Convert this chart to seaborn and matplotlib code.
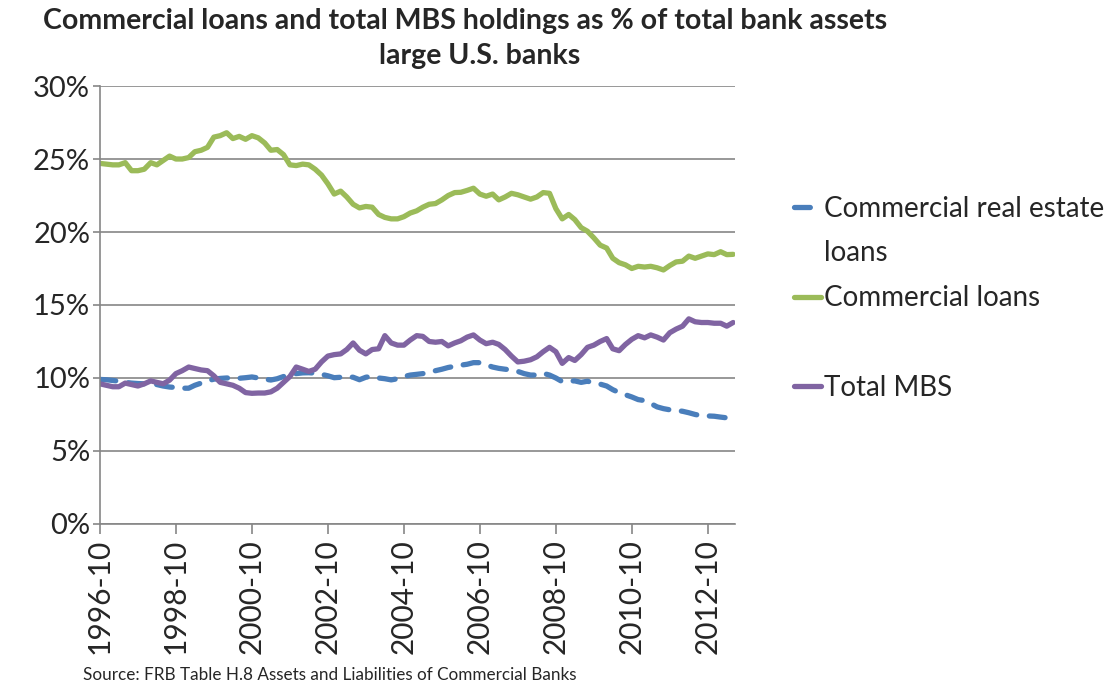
import pandas as pd
import matplotlib
matplotlib.use("Agg")
import matplotlib.pyplot as plt
import matplotlib.dates as mdates
from matplotlib.lines import Line2D
from matplotlib.ticker import PercentFormatter
import seaborn as sns

# Data (every 2 months, % of total bank assets)
dates = pd.date_range("1996-10-01", periods=101, freq="2MS")

cre_loans = [
    9.9, 9.88, 9.83, 9.78, 9.7, 9.65, 9.62, 9.6, 9.6, 9.55,
    9.45, 9.38, 9.35, 9.3, 9.3, 9.5, 9.65, 9.8, 9.92, 9.97,
    10.0, 10.0, 9.98, 10.02, 10.07, 10.0, 9.92, 9.86, 9.95, 10.1,
    10.2, 10.3, 10.35, 10.36, 10.33, 10.25, 10.15, 10.02, 10.05, 10.1,
    10.05, 9.88, 10.05, 10.12, 10.0, 9.95, 9.87, 9.95, 10.1, 10.2,
    10.25, 10.3, 10.4, 10.5, 10.6, 10.72, 10.8, 10.88, 10.94, 11.05,
    11.05, 10.9, 10.75, 10.66, 10.6, 10.55, 10.45, 10.3, 10.2, 10.2,
    10.32, 10.2, 10.0, 9.75, 9.8, 9.8, 9.7, 9.78, 9.65, 9.58,
    9.45, 9.2, 9.0, 8.85, 8.7, 8.52, 8.45, 8.25, 8.02, 7.9,
    7.82, 7.78, 7.72, 7.62, 7.5, 7.42, 7.4, 7.38, 7.32, 7.27,
    7.22,
]

commercial_loans = [
    24.7, 24.65, 24.6, 24.6, 24.75, 24.2, 24.2, 24.3, 24.75, 24.6,
    24.9, 25.2, 25.0, 25.0, 25.1, 25.5, 25.6, 25.8, 26.5, 26.6,
    26.8, 26.4, 26.55, 26.35, 26.6, 26.45, 26.1, 25.6, 25.65, 25.3,
    24.6, 24.55, 24.65, 24.6, 24.3, 23.9, 23.3, 22.6, 22.8, 22.4,
    21.9, 21.65, 21.75, 21.7, 21.2, 21.0, 20.9, 20.9, 21.05, 21.3,
    21.45, 21.7, 21.9, 21.95, 22.2, 22.5, 22.7, 22.72, 22.85, 23.0,
    22.6, 22.45, 22.6, 22.2, 22.4, 22.65, 22.55, 22.4, 22.25, 22.4,
    22.7, 22.65, 21.6, 20.9, 21.2, 20.85, 20.3, 20.05, 19.6, 19.1,
    18.9, 18.2, 17.9, 17.75, 17.5, 17.65, 17.6, 17.65, 17.55, 17.4,
    17.7, 17.95, 18.0, 18.35, 18.2, 18.35, 18.5, 18.45, 18.65, 18.45,
    18.47,
]

total_mbs = [
    9.6, 9.5, 9.4, 9.4, 9.65, 9.55, 9.45, 9.6, 9.8, 9.7,
    9.6, 9.85, 10.3, 10.5, 10.75, 10.65, 10.55, 10.5, 10.15, 9.7,
    9.6, 9.5, 9.3, 9.0, 8.95, 8.97, 8.97, 9.05, 9.3, 9.7,
    10.1, 10.75, 10.6, 10.45, 10.6, 11.1, 11.5, 11.6, 11.65, 11.95,
    12.4, 11.9, 11.65, 11.95, 12.0, 12.9, 12.4, 12.25, 12.25, 12.6,
    12.9, 12.85, 12.5, 12.45, 12.5, 12.2, 12.4, 12.55, 12.8, 12.95,
    12.6, 12.35, 12.45, 12.3, 11.95, 11.5, 11.1, 11.15, 11.25, 11.45,
    11.8, 12.1, 11.8, 11.0, 11.4, 11.2, 11.6, 12.1, 12.25, 12.5,
    12.7, 12.0, 11.87, 12.3, 12.65, 12.9, 12.75, 12.95, 12.8, 12.6,
    13.1, 13.35, 13.55, 14.05, 13.85, 13.8, 13.8, 13.75, 13.75, 13.55,
    13.8,
]

tick_dates = pd.date_range("1996-10-01", "2012-10-01", freq="24MS")

blue = "#4A7EBB"
green = "#9BBB59"
purple = "#8064A2"
grey = "#868686"

sns.set_theme(style="white")
plt.rcParams["font.family"] = ["Lato", "DejaVu Sans"]

fig, ax = plt.subplots(figsize=(11.13, 6.86), dpi=100)
fig.subplots_adjust(left=0.0898, right=0.660, top=0.8746, bottom=0.2362)

lw = 3.8
sns.lineplot(x=dates, y=cre_loans, ax=ax, color=blue, lw=lw)
sns.lineplot(x=dates, y=commercial_loans, ax=ax, color=green, lw=lw)
sns.lineplot(x=dates, y=total_mbs, ax=ax, color=purple, lw=lw)
cre_line = ax.lines[0]
cre_line.set_dashes((3.0, 2.4))
cre_line.set_dash_capstyle("round")
for ln in ax.lines:
    ln.set_solid_capstyle("round")

ax.set_ylim(0, 30)
ax.set_yticks(range(0, 31, 5))
ax.yaxis.set_major_formatter(PercentFormatter(decimals=0))
ax.set_xlim(pd.Timestamp("1996-10-01"), pd.Timestamp("2013-06-15"))
ax.set_xticks(tick_dates)
ax.xaxis.set_major_formatter(mdates.DateFormatter("%Y-%m"))
ax.set_xlabel("")
ax.set_ylabel("")

ax.yaxis.grid(True, color=grey, lw=1.2)
ax.xaxis.grid(False)
for side in ["top", "right"]:
    ax.spines[side].set_visible(False)
for side in ["left", "bottom"]:
    ax.spines[side].set_color(grey)
    ax.spines[side].set_linewidth(1.2)
ax.tick_params(axis="x", direction="out", length=7, width=1.2, color=grey,
               labelsize=21.5, rotation=90, pad=4, bottom=True)
ax.tick_params(axis="y", direction="out", length=5, width=1.2, color=grey,
               labelsize=21, pad=2, left=True)

# legend: the wrapped label and the gap are kept with blank rows
handles = [
    Line2D([], [], color=blue, lw=lw, dashes=(3.0, 2.4), dash_capstyle="round"),
    Line2D([], [], color="none"),
    Line2D([], [], color=green, lw=lw),
    Line2D([], [], color="none"),
    Line2D([], [], color=purple, lw=lw),
]
labels = ["Commercial real estate", "loans", "Commercial loans", " ", "Total MBS"]
fig.legend(handles, labels, loc="upper left", bbox_to_anchor=(0.713, 0.715),
           frameon=False, fontsize=20, handlelength=1.0, handletextpad=0.1,
           labelspacing=0.68, borderpad=0, borderaxespad=0)

fig.text(0.418, 0.969, "Commercial loans and total MBS holdings as % of total bank assets",
         ha="center", va="center", fontsize=20.5, fontweight="bold")
fig.text(0.431, 0.918, "large U.S. banks",
         ha="center", va="center", fontsize=20.5, fontweight="bold")
fig.text(0.0746, 0.016, "Source: FRB Table H.8 Assets and Liabilities of Commercial Banks",
         ha="left", va="center", fontsize=12.3)

fig.savefig("out.png", dpi=100)
